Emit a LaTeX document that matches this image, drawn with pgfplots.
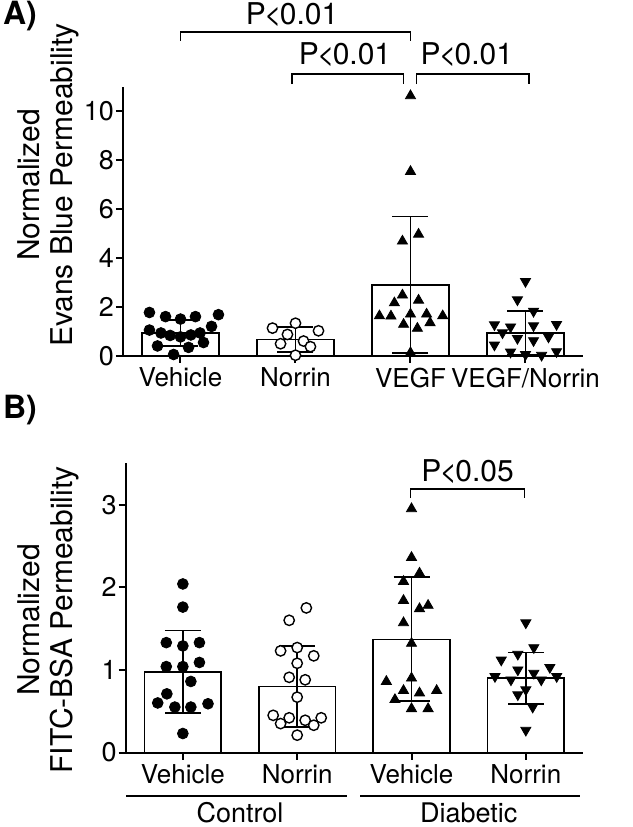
\documentclass[border=0pt]{standalone}
\usepackage{fontspec}
\setmainfont{TeX Gyre Heros}
\usepackage{pgfplots}
\pgfplotsset{compat=1.18}
\newcommand{\Plt}{P\kern-0.9pt<\kern-0.9pt}

\pgfplotsset{
  panel/.style={
    scale only axis,
    anchor=south west,
    axis lines=left,
    axis line style={-, line width=1pt},
    xmin=-0.5, xmax=3.5,
    xtick={0,1,2,3},
    tick align=outside,
    major tick length=3.5pt,
    tick style={black, line width=1pt},
    /pgf/number format/assume math mode=true,
    yticklabel style={font=\fontsize{13.5}{15}\selectfont, xshift=2.5pt},
    xticklabel style={font=\fontsize{13}{15}\selectfont, yshift=1pt},
    ylabel style={align=center, font=\fontsize{15}{16.5}\selectfont, anchor=center},
    clip=false,
  },
  barplot/.style={ybar, bar width=0.67, fill=white, draw=black, line width=0.8pt,
    error bars/.cd, y dir=both, y explicit,
    error bar style={line width=0.9pt, black},
    error mark options={rotate=90, mark size=9pt, line width=0.9pt, black}},
  dotsfill/.style={only marks, mark=*, mark size=2.7pt, mark options={fill=black, draw=black}},
  dotsopen/.style={only marks, mark=*, mark size=2.6pt, mark options={fill=white, draw=black, line width=0.7pt}},
  triup/.style={only marks, mark=triangle*, mark size=2.9pt, mark options={fill=black, draw=black}},
  tridown/.style={only marks, mark=triangle*, mark size=2.9pt, mark options={fill=black, draw=black, rotate=180}},
}

\begin{document}
\begin{tikzpicture}
\path[use as bounding box] (0,0) rectangle (316.5pt,-413.5pt);

% ---------------- Panel A ----------------
\begin{axis}[panel,
  at={(61.5pt,-177.85pt)},
  width=230pt, height=134.35pt,
  ymin=0, ymax=11, ytick={0,2,4,6,8,10},
  xticklabels={Vehicle,Norrin,VEGF,VEGF/Norrin},
  ylabel={Normalized\\Evans Blue Permeability},
  ylabel style={at={(axis description cs:-0.163,0.635)}},
]
\addplot[barplot] coordinates {
  (0,0.93) +- (0,0.53)
  (1,0.66) +- (0,0.50)
  (2,2.90) +- (0,2.80)
  (3,0.92) +- (0,0.90)
};
\addplot[dotsfill] coordinates {
  (-0.27,1.77) (-0.13,1.60) (0,1.50) (0.13,1.60) (0.33,1.68)
  (-0.27,1.05) (-0.17,0.93) (-0.09,0.83) (0,0.77) (0.09,0.85) (0.17,0.93) (0.27,1.20)
  (-0.20,0.40) (0.07,0.34) (0.20,0.54) (-0.06,0.05)
};
\addplot[dotsopen] coordinates {
  (0.80,1.13) (1.00,1.33) (1.20,1.02) (0.93,0.87) (1.07,0.60) (0.87,0.49) (1.13,0.37) (1.00,0.02)
};
\addplot[triup] coordinates {
  (2,10.64) (2,7.54) (1.93,4.69) (2.07,4.97) (1.93,2.48) (1.86,2.16) (2.07,2.27)
  (1.73,1.63) (1.83,1.62) (2,1.70) (2.14,1.70) (2.28,1.63)
  (1.94,1.28) (2.17,1.35) (2.06,1.12) (2,0.12)
};
\addplot[tridown] coordinates {
  (3,3.04) (2.93,2.29) (3.07,1.82) (2.73,1.27) (2.87,1.18) (3.07,1.23) (3.27,1.28)
  (2.80,0.94) (2.93,0.71) (3.07,0.62) (3.20,0.77) (2.73,0.44) (2.87,0.15) (3,0.05) (3.14,0.02) (3.27,0.17)
};
% significance brackets
\draw[line width=0.7pt] (axis cs:0,12.89) -- (axis cs:0,13.25) -- (axis cs:2,13.25) -- (axis cs:2,12.89);
\node[font=\fontsize{15}{17}\selectfont] at (axis cs:0.97,13.95) {\Plt0.01};
\draw[line width=0.7pt] (axis cs:0.97,11.12) -- (axis cs:0.97,11.53) -- (axis cs:1.94,11.53) -- (axis cs:1.94,11.12);
\node[font=\fontsize{15}{17}\selectfont] at (axis cs:1.43,12.31) {\Plt0.01};
\draw[line width=0.7pt] (axis cs:2.05,11.12) -- (axis cs:2.05,11.53) -- (axis cs:3.03,11.53) -- (axis cs:3.03,11.12);
\node[font=\fontsize{15}{17}\selectfont] at (axis cs:2.49,12.31) {\Plt0.01};
\end{axis}

% ---------------- Panel B ----------------
\begin{axis}[panel,
  at={(62.85pt,-376.25pt)},
  width=228.65pt, height=144.6pt,
  ymin=0, ymax=3.5, ytick={0,1,2,3},
  xticklabels={Vehicle,Norrin,Vehicle,Norrin},
  ylabel={Normalized\\FITC-BSA Permeability},
  ylabel style={at={(axis description cs:-0.17,0.458)}},
]
\addplot[barplot] coordinates {
  (0,0.976) +- (0,0.50)
  (1,0.80) +- (0,0.49)
  (2,1.37) +- (0,0.75)
  (3,0.90) +- (0,0.31)
};
\addplot[dotsfill] coordinates {
  (0,2.04) (0,1.76) (-0.145,1.33) (0,1.29) (0.145,1.33) (-0.145,1.04) (0,1.04) (0.145,1.09)
  (0.07,0.86) (-0.14,0.71) (-0.22,0.60) (-0.07,0.55) (0.07,0.55) (0.22,0.59) (0,0.23)
};
\addplot[dotsopen] coordinates {
  (1.08,1.75) (0.93,1.60) (0.855,1.23) (1,1.27) (1.145,1.17) (1,1.08) (0.93,0.91) (1.07,0.88)
  (1,0.67) (0.79,0.45) (0.93,0.42) (1.07,0.39) (1.21,0.42) (0.855,0.35) (1.145,0.33) (1,0.21)
};
\addplot[triup] coordinates {
  (2,2.95) (2,2.36) (2.07,2.17) (1.93,2.07) (1.93,1.84) (2.07,1.74) (2.145,1.78) (1.93,1.57)
  (2,1.32) (2,0.90) (1.78,0.86) (1.93,0.75) (2.07,0.72) (2.22,0.75) (1.855,0.64) (2,0.53) (2.145,0.53)
};
\addplot[tridown] coordinates {
  (3,1.57) (3.07,1.27) (2.93,1.19) (2.785,1.12) (3.21,1.03) (2.93,1.00) (3.07,0.96) (2.73,0.92)
  (2.87,0.88) (3.135,0.88) (3.27,0.92) (3,0.76) (2.93,0.70) (3.06,0.55) (3,0.27)
};
\draw[line width=0.7pt] (axis cs:1.99,3.08) -- (axis cs:1.99,3.19) -- (axis cs:2.99,3.19) -- (axis cs:2.99,3.08);
\node[font=\fontsize{15}{17}\selectfont] at (axis cs:2.49,3.40) {\Plt0.05};
% group lines
\draw[line width=0.7pt] (axis cs:-0.495,-0.525) -- (axis cs:1.435,-0.525);
\draw[line width=0.7pt] (axis cs:1.55,-0.525) -- (axis cs:3.47,-0.525);
\node[font=\fontsize{13.5}{16}\selectfont] at (axis cs:0.5,-0.73) {Control};
\node[font=\fontsize{13.5}{16}\selectfont] at (axis cs:2.5,-0.73) {Diabetic};
\end{axis}

\node[font=\bfseries\fontsize{16}{18}\selectfont] at (10pt,-8pt) {A)};
\node[font=\bfseries\fontsize{16}{18}\selectfont] at (10pt,-205pt) {B)};
\end{tikzpicture}
\end{document}
